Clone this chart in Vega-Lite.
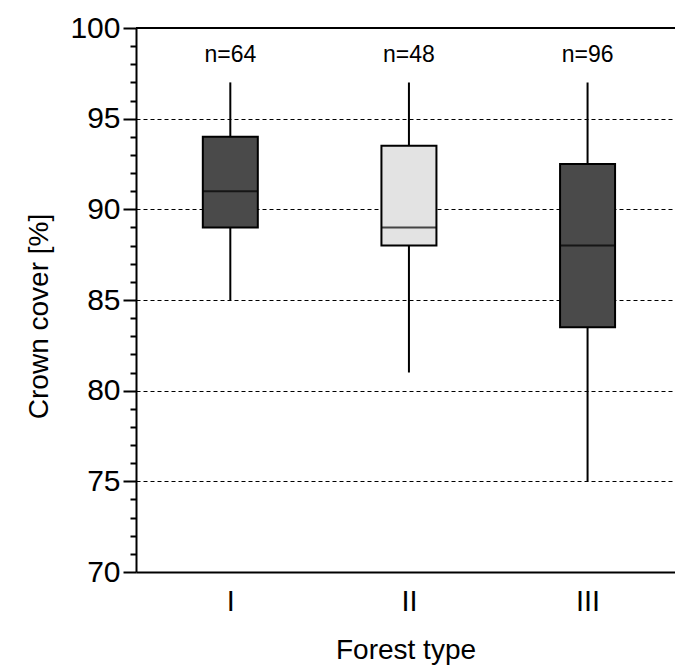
{
  "$schema": "https://vega.github.io/schema/vega-lite/v6.json",
  "width": 539,
  "height": 544,
  "autosize": "none",
  "padding": {"left": 136, "top": 28, "right": 0, "bottom": 94},
  "background": "white",
  "config": {
    "view": {"stroke": null},
    "font": "Liberation Sans",
    "axis": {"labelColor": "black", "titleColor": "black", "domainColor": "black", "tickColor": "black", "titleFontWeight": "normal"}
  },
  "data": {
    "values": [
      {"type": "I", "pos": 1, "min": 85, "q1": 89, "median": 91, "q3": 94, "max": 97, "n": "n=64"},
      {"type": "II", "pos": 2, "min": 81, "q1": 88, "median": 89, "q3": 93.5, "max": 97, "n": "n=48"},
      {"type": "III", "pos": 3, "min": 75, "q1": 83.5, "median": 88, "q3": 92.5, "max": 97, "n": "n=96"}
    ]
  },
  "encoding": {
    "x": {
      "field": "pos",
      "type": "quantitative",
      "scale": {"domain": [0.5, 3.4615], "nice": false, "zero": false},
      "axis": {
        "values": [1, 2, 3],
        "labelExpr": "datum.value == 1 ? 'I' : datum.value == 2 ? 'II' : 'III'",
        "ticks": false,
        "grid": false,
        "domainWidth": 2,
        "labelFontSize": 29,
        "labelPadding": 15,
        "title": "Forest type",
        "titleFontSize": 28,
        "titlePadding": 20
      }
    }
  },
  "layer": [
    {
      "mark": {"type": "rule", "color": "black", "strokeWidth": 2},
      "encoding": {
        "y": {
          "field": "min",
          "type": "quantitative",
          "scale": {"domain": [70, 100], "nice": false, "zero": false},
          "axis": {
            "values": [70,71,72,73,74,75,76,77,78,79,80,81,82,83,84,85,86,87,88,89,90,91,92,93,94,95,96,97,98,99,100],
            "tickCount": 60,
            "format": "d",
            "labelExpr": "datum.value % 5 === 0 ? datum.label : ''",
            "labelOverlap": false,
            "tickSize": {"condition": {"test": "datum.value % 5 === 0", "value": 13}, "value": 6},
            "tickWidth": 2,
            "domainWidth": 2,
            "labelFontSize": 30,
            "labelPadding": 3,
            "grid": true,
            "gridColor": "black",
            "gridWidth": 1,
            "gridDash": [4, 3],
            "gridOpacity": {"condition": {"test": "datum.value % 5 === 0 && datum.value > 70 && datum.value < 100", "value": 1}, "value": 0},
            "title": "Crown cover [%]",
            "titleFontSize": 28,
            "titlePadding": 16,
            "titleY": 288
          }
        },
        "y2": {"field": "max"}
      }
    },
    {
      "mark": {"type": "bar", "width": 55, "stroke": "black", "strokeWidth": 2},
      "encoding": {
        "y": {"field": "q1", "type": "quantitative"},
        "y2": {"field": "q3"},
        "color": {
          "field": "type",
          "type": "nominal",
          "scale": {"domain": ["I", "II", "III"], "range": ["#4a4a4a", "#e3e3e3", "#4a4a4a"]},
          "legend": null
        }
      }
    },
    {
      "mark": {"type": "tick", "orient": "horizontal", "size": 55, "thickness": 2, "color": "black"},
      "encoding": {
        "y": {"field": "median", "type": "quantitative"}
      }
    },
    {
      "mark": {"type": "text", "fontSize": 23, "baseline": "alphabetic", "color": "black"},
      "encoding": {
        "y": {"datum": 98.1},
        "text": {"field": "n"}
      }
    },
    {
      "mark": {"type": "rule", "color": "black", "strokeWidth": 2},
      "encoding": {
        "x": {"value": 0},
        "x2": {"value": 539},
        "y": {"datum": 100}
      }
    }
  ]
}
